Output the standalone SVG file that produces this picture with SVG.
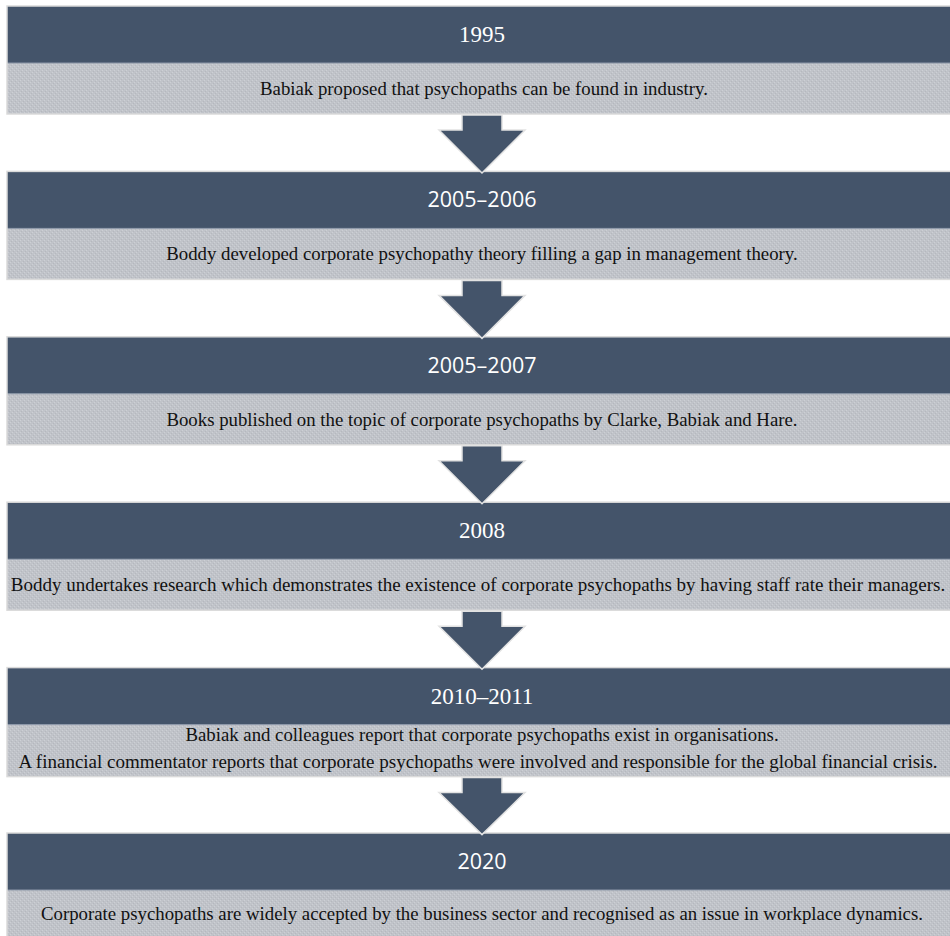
<svg xmlns="http://www.w3.org/2000/svg" width="950" height="936" viewBox="0 0 950 936">
  <defs>
    <pattern id="tex" x="0" y="0" width="4" height="4" patternUnits="userSpaceOnUse">
      <rect width="4" height="4" fill="#C0C3C9"/>
      <rect x="0" y="0" width="1" height="1" fill="#CDD0D5"/>
      <rect x="2" y="2" width="1" height="1" fill="#CDD0D5"/>
      <rect x="1" y="3" width="1" height="1" fill="#B5B8BE"/>
      <rect x="3" y="1" width="1" height="1" fill="#B5B8BE"/>
    </pattern>
    <style>
      .head { fill: #44546A; }
      .band { fill: url(#tex); }
      .frame { fill: none; stroke: #DADADA; stroke-width: 1.5; }
      .yr-serif { font-family: "Liberation Serif", "Times New Roman", serif; font-size: 23px; fill: #FFFFFF; text-anchor: middle; }
      .yr-sans { font-family: "Open Sans", "Liberation Sans", sans-serif; font-size: 21.5px; fill: #FFFFFF; text-anchor: middle; }
      .desc { font-family: "Liberation Serif", "Times New Roman", serif; font-size: 18.8px; fill: #111111; text-anchor: middle; }
      .desc-wide { font-family: "Liberation Serif", "Times New Roman", serif; font-size: 19px; fill: #111111; text-anchor: middle; }
      .arrow { fill: #44546A; stroke: #E2E2E2; stroke-width: 1.5; stroke-linejoin: miter; }
    </style>
  </defs>

  <g id="node-1995">
    <rect class="head" x="7" y="6" width="951" height="57"/>
    <rect class="band" x="7" y="63" width="951" height="51"/>
    <line x1="7" y1="63" x2="958" y2="63" stroke="#8C97A8" stroke-width="1"/>
    <rect class="frame" x="7" y="6" width="951" height="108"/>
    <text class="yr-serif" x="482" y="42">1995</text>
    <text class="desc" x="484" y="95">Babiak proposed that psychopaths can be found in industry.</text>
  </g>

  <g id="node-2005-2006">
    <rect class="head" x="7" y="171.4" width="951" height="57"/>
    <rect class="band" x="7" y="228.4" width="951" height="51"/>
    <line x1="7" y1="228.4" x2="958" y2="228.4" stroke="#8C97A8" stroke-width="1"/>
    <rect class="frame" x="7" y="171.4" width="951" height="108"/>
    <text class="yr-sans" x="482" y="207.4">2005–2006</text>
    <text class="desc" x="482" y="260.4">Boddy developed corporate psychopathy theory filling a gap in management theory.</text>
  </g>

  <g id="node-2005-2007">
    <rect class="head" x="7" y="336.8" width="951" height="57"/>
    <rect class="band" x="7" y="393.8" width="951" height="51"/>
    <line x1="7" y1="393.8" x2="958" y2="393.8" stroke="#8C97A8" stroke-width="1"/>
    <rect class="frame" x="7" y="336.8" width="951" height="108"/>
    <text class="yr-sans" x="482" y="372.8">2005–2007</text>
    <text class="desc" x="482" y="425.8">Books published on the topic of corporate psychopaths by Clarke, Babiak and Hare.</text>
  </g>

  <g id="node-2008">
    <rect class="head" x="7" y="502.2" width="951" height="57"/>
    <rect class="band" x="7" y="559.2" width="951" height="51"/>
    <line x1="7" y1="559.2" x2="958" y2="559.2" stroke="#8C97A8" stroke-width="1"/>
    <rect class="frame" x="7" y="502.2" width="951" height="108"/>
    <text class="yr-serif" x="482" y="538.2">2008</text>
    <text class="desc-wide" x="478" y="591.2">Boddy undertakes research which demonstrates the existence of corporate psychopaths by having staff rate their managers.</text>
  </g>

  <g id="node-2010-2011">
    <rect class="head" x="7" y="667.6" width="951" height="57"/>
    <rect class="band" x="7" y="724.6" width="951" height="52"/>
    <line x1="7" y1="724.6" x2="958" y2="724.6" stroke="#8C97A8" stroke-width="1"/>
    <rect class="frame" x="7" y="667.6" width="951" height="109"/>
    <text class="yr-serif" x="482" y="703.6">2010–2011</text>
    <text class="desc" x="482" y="741">Babiak and colleagues report that corporate psychopaths exist in organisations.</text>
    <text class="desc-wide" x="478" y="768">A financial commentator reports that corporate psychopaths were involved and responsible for the global financial crisis.</text>
  </g>

  <g id="node-2020">
    <rect class="head" x="7" y="833" width="951" height="57"/>
    <rect class="band" x="7" y="890" width="951" height="51"/>
    <line x1="7" y1="890" x2="958" y2="890" stroke="#8C97A8" stroke-width="1"/>
    <rect class="frame" x="7" y="833" width="951" height="108"/>
    <text class="yr-sans" x="482" y="868.5">2020</text>
    <text class="desc" x="482" y="920">Corporate psychopaths are widely accepted by the business sector and recognised as an issue in workplace dynamics.</text>
  </g>

  <g id="connectors">
    <path class="arrow" d="M462,115 L502,115 L502,130 L525,130 L482,173 L439,130 L462,130 Z"/>
    <path class="arrow" d="M462,280.4 L502,280.4 L502,295.4 L525,295.4 L482,338.4 L439,295.4 L462,295.4 Z"/>
    <path class="arrow" d="M462,445.8 L502,445.8 L502,460.8 L525,460.8 L482,503.8 L439,460.8 L462,460.8 Z"/>
    <path class="arrow" d="M462,611.2 L502,611.2 L502,626.2 L525,626.2 L482,669.2 L439,626.2 L462,626.2 Z"/>
    <path class="arrow" d="M462,777.6 L502,777.6 L502,792.6 L525,792.6 L482,834.6 L439,792.6 L462,792.6 Z"/>
  </g>
</svg>
